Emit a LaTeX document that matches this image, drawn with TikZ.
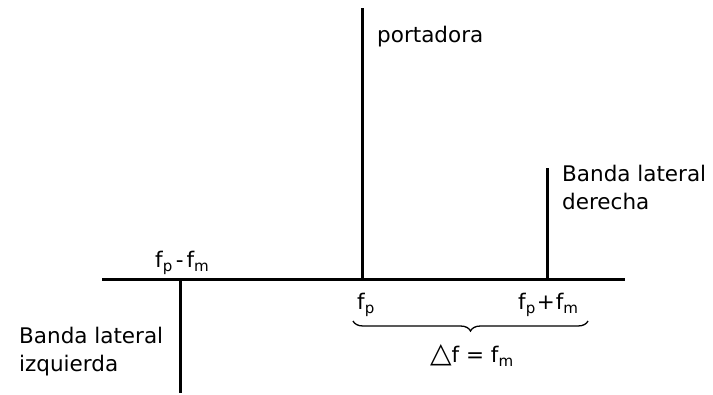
\documentclass[tikz,border=0pt]{standalone}
\usepackage{fontspec}
\setmainfont{DejaVu Sans}
\usetikzlibrary{decorations.pathreplacing}
\begin{document}
\begin{tikzpicture}[x=1pt,y=-1pt,
  spec/.style={line width=3pt},
  lbl/.style={inner sep=0pt,anchor=base west,align=left,font=\fontsize{21.5}{28.5}\selectfont},
  sub/.style={inner sep=0pt,anchor=base west,font=\fontsize{21.5}{28.5}\selectfont}]
\useasboundingbox (0,0) rectangle (713,395);
% coordinates
\coordinate (axL) at (102,280);
\coordinate (axR) at (625,280);
\coordinate (cB) at (362,280);
\coordinate (cT) at (362,8);
\coordinate (rB) at (547,280);
\coordinate (rT) at (547,168);
\coordinate (lT) at (180,280);
\coordinate (lB) at (180,393);
\coordinate (brL) at (353,321);
\coordinate (brR) at (588,321);
% lines
\draw[spec] (axL) -- (axR);
\draw[spec] (cB) -- (cT);
\draw[spec] (rB) -- (rT);
\draw[spec] (lT) -- (lB);
\draw[line width=1.3pt,decorate,decoration={brace,mirror,amplitude=10pt}] (brL) -- (brR);
% labels
\node[lbl] (port) at (377,43) {portadora};
\node[lbl] (der) at (562,210) {Banda lateral\\derecha};
\node[lbl] (izq) at (19,372) {Banda lateral\\izquierda};
\node[sub] (fpm) at (155,268) {f\textsubscript{p}\hspace{3pt}-\hspace{3pt}f\textsubscript{m}};
\node[sub] (fp) at (357,310) {f\textsubscript{p}};
\node[sub] (fpp) at (518,310) {f\textsubscript{p}\hspace{1pt}+\hspace{1pt}f\textsubscript{m}};
\node[sub] (df) at (430,363) {{\fontsize{28}{28}\selectfont △}f = f\textsubscript{m}};
\end{tikzpicture}
\end{document}
